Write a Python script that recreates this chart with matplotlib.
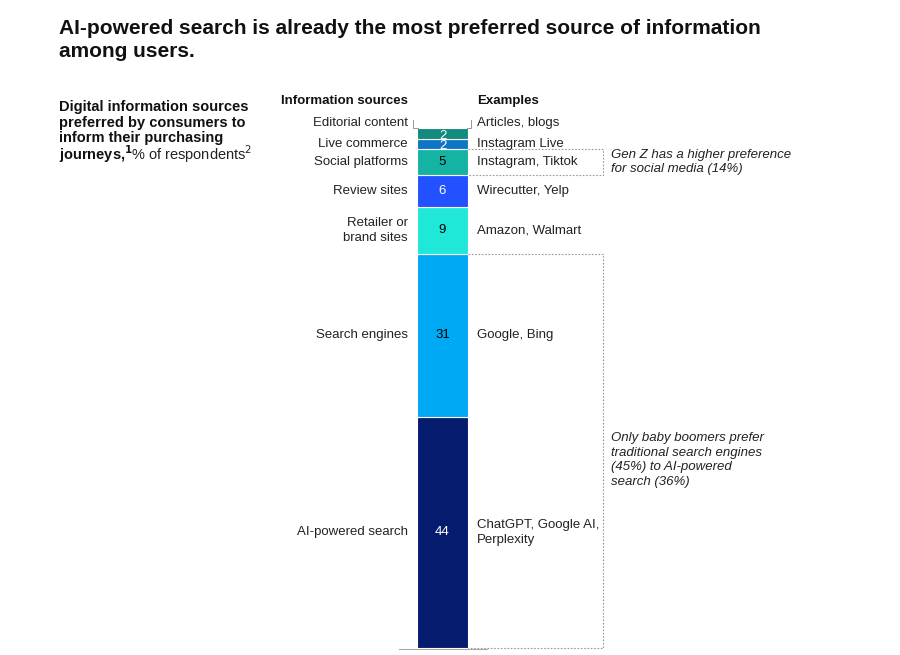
import matplotlib
matplotlib.use('Agg')
import matplotlib.pyplot as plt
from matplotlib import transforms

plt.rcParams['font.family'] = ['Liberation Sans', 'DejaVu Sans']

# data, bottom to top
sources = ['AI-powered search', 'Search engines', 'Retailer or\nbrand sites',
           'Review sites', 'Social platforms', 'Live commerce', 'Editorial content']
values = [44, 31, 9, 6, 5, 2, 2]
examples = ['ChatGPT, Google AI,\nPerplexity', 'Google, Bing', 'Amazon, Walmart',
            'Wirecutter, Yelp', 'Instagram, Tiktok', 'Instagram Live', 'Articles, blogs']
colors = ['#051C6E', '#00A9F4', '#20E8D8', '#2251FF', '#14B3A3', '#1175C6', '#138A7E']
value_colors = ['white', 'black', 'black', 'white', 'black', 'white', 'white']

W, H = 900, 655
fig = plt.figure(figsize=(9, 6.55), dpi=100)

bar_left, bar_w, bar_top, bar_bot = 417, 51, 128, 648
total = sum(values)
ax = fig.add_axes([bar_left / W, 1 - bar_bot / H, bar_w / W, (bar_bot - bar_top) / H])
ax.set_xlim(0, 1)
ax.set_ylim(0, total)
ax.axis('off')

bottoms = []
b = 0
for v, c in zip(values, colors):
    ax.bar(0.5, v, width=1.0, bottom=b, color=c, edgecolor='white', linewidth=0.8)
    bottoms.append(b)
    b += v

fx = lambda px: px / W
tr = transforms.blended_transform_factory(fig.transFigure, ax.transData)

for i, (s, v, e) in enumerate(zip(sources, values, examples)):
    mid = bottoms[i] + v / 2
    off = -0.5 if i >= 5 else 0
    if i == 6:
        ty = mid + 2.0
    elif i == 5:
        ty = mid - 0.1
    else:
        ty = mid
    fig.text(fx(408), ty, s, transform=tr, ha='right', va='center', fontsize=9.5,
             color='#222222', linespacing=1.3)
    fig.text(fx(477), ty if i != 0 else mid, e, transform=tr, ha='left', va='center',
             fontsize=9.5, color='#222222', linespacing=1.4)
    ax.text(0.5, mid + off, str(v), ha='center', va='center', fontsize=9.5,
            color=value_colors[i])

# editorial bracket
top = total
for x0, x1 in [(413, 418), (471, 467)]:
    fig.add_artist(plt.Line2D([fx(x0), fx(x0), fx(x1)], [1 - 120 / H, 1 - 128 / H, 1 - 128 / H],
                              color='#999999', lw=0.7))

# dotted callout boxes
def box(y0, y1, x_right=603):
    xs = [fx(468), fx(x_right), fx(x_right), fx(468)]
    ys = [y1, y1, y0, y0]
    fig.add_artist(plt.Line2D(xs, ys, transform=tr, color='#999999', lw=0.8,
                              linestyle=(0, (1.5, 1.5))))

box(bottoms[4], bottoms[5])
box(0, bottoms[2])
fig.text(fx(611), 1 - 162 / H, 'Gen Z has a higher preference\nfor social media (14%)',
         ha='left', va='center', fontsize=9.5, style='italic', color='#222222', linespacing=1.3)
fig.text(fx(611), 1 - 460 / H, 'Only baby boomers prefer\ntraditional search engines\n(45%) to AI-powered\nsearch (36%)',
         ha='left', va='center', fontsize=9.5, style='italic', color='#222222', linespacing=1.3)

# baseline
fig.add_artist(plt.Line2D([fx(399), fx(487)], [1 - 649 / H] * 2, color='#aaaaaa', lw=0.8))

# headers and titles
fig.text(fx(408), 1 - 101 / H, 'Information sources', ha='right', va='center',
         fontsize=9.5, weight='bold', color='#111111')
fig.text(fx(477), 1 - 101 / H, 'Examples', ha='left', va='center',
         fontsize=9.5, weight='bold', color='#111111')
fig.text(fx(59), 1 - 40 / H, 'AI-powered search is already the most preferred source of information\namong users.',
         ha='left', va='center', fontsize=15, weight='bold', color='#111111', linespacing=1.25)
fig.text(fx(59), 1 - 100 / H, 'Digital information sources\npreferred by consumers to\ninform their purchasing',
         ha='left', va='top', fontsize=10.5, weight='bold', color='#111111', linespacing=1.15)
fig.text(fx(59), 1 - 154 / H, r'journeys,$^\mathbf{1}$', ha='left', va='center',
         fontsize=10.5, weight='bold', color='#111111')
fig.text(fx(131), 1 - 154 / H, r'% of respondents$^2$', ha='left', va='center',
         fontsize=10.5, color='#222222')

fig.savefig('out.png', dpi=100)
